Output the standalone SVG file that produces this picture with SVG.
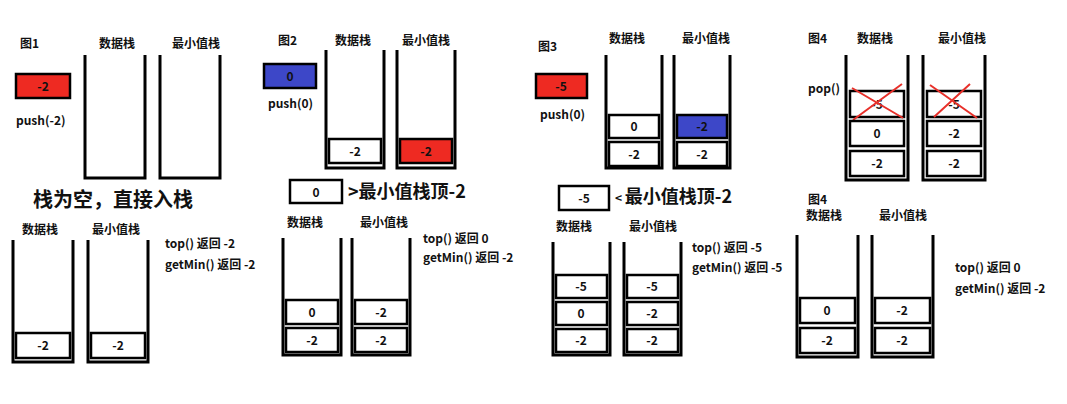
<svg xmlns="http://www.w3.org/2000/svg" width="1067" height="404" viewBox="0 0 1067 404">
<style>
text{font-family:"Noto Sans CJK SC","Liberation Sans",sans-serif;font-weight:bold;font-size:12px;fill:#111}
.c{text-anchor:middle}
.big{font-size:18px}
.stk{fill:none;stroke:#000;stroke-width:3}
.it{fill:#fff;stroke:#000;stroke-width:2.5}
.red{fill:#ee2a22;stroke:#000;stroke-width:2.5}
.blue{fill:#3d47c8;stroke:#000;stroke-width:2.5}
.x{stroke:#e8302a;stroke-width:2;fill:none}
</style>
<rect width="1067" height="404" fill="#fff"/>
<g id="panel1">
<text x="20" y="48">图1</text><text x="99" y="48">数据栈</text><text x="172" y="48">最小值栈</text>
<rect class="red" x="16" y="74" width="54" height="24"/><text class="c" x="43" y="91">-2</text>
<text x="16" y="125">push(-2)</text>
<path class="stk" d="M85 55V178H145V55M160 55V178H220V55"/>
<text x="33" y="207" style="font-size:20px">栈为空，直接入栈</text>
<text x="22" y="234">数据栈</text><text x="92" y="234">最小值栈</text>
<path class="stk" d="M13 240V362H73V240M88 240V362H148V240"/>
<rect class="it" x="16" y="333" width="54" height="25"/><text class="c" x="43" y="350">-2</text>
<rect class="it" x="91" y="333" width="54" height="25"/><text class="c" x="118" y="350">-2</text>
<text x="165" y="248">top() 返回 -2</text><text x="165" y="269">getMin() 返回 -2</text>
</g>
<g id="panel2">
<text x="278" y="45">图2</text><text x="335" y="45">数据栈</text><text x="402" y="45">最小值栈</text>
<rect class="blue" x="264" y="64" width="52" height="24"/><text class="c" x="290" y="81" fill="#fff">0</text>
<text x="268" y="108">push(0)</text>
<path class="stk" d="M326 50V168H384V50M397 50V168H455V50"/>
<rect class="it" x="329" y="139" width="52" height="24"/><text class="c" x="355" y="156">-2</text>
<rect class="red" x="400" y="139" width="52" height="24"/><text class="c" x="426" y="156">-2</text>
<rect class="it" x="290" y="180" width="52" height="23"/><text class="c" x="316" y="197">0</text>
<text x="348" y="198" class="big">&gt;最小值栈顶-2</text>
<text x="287" y="227">数据栈</text><text x="360" y="227">最小值栈</text>
<path class="stk" d="M283 238V355H341V238M352 238V355H410V238"/>
<rect class="it" x="286" y="300" width="52" height="24"/><text class="c" x="312" y="317">0</text>
<rect class="it" x="355" y="300" width="52" height="24"/><text class="c" x="381" y="317">-2</text>
<rect class="it" x="286" y="328" width="52" height="24"/><text class="c" x="312" y="345">-2</text>
<rect class="it" x="355" y="328" width="52" height="24"/><text class="c" x="381" y="345">-2</text>
<text x="423" y="243">top() 返回 0</text><text x="423" y="262">getMin() 返回 -2</text>
</g>
<g id="panel3">
<text x="538" y="51">图3</text><text x="609" y="43">数据栈</text><text x="682" y="43">最小值栈</text>
<rect class="red" x="536" y="74" width="51" height="24"/><text class="c" x="561" y="91" fill="#fff">-5</text>
<text x="540" y="119">push(0)</text>
<path class="stk" d="M606 55V168H662V55M674 55V168H730V55"/>
<rect class="it" x="609" y="115" width="50" height="23"/><text class="c" x="634" y="131">0</text>
<rect class="blue" x="677" y="115" width="50" height="23"/><text class="c" x="702" y="131" fill="#fff">-2</text>
<rect class="it" x="609" y="142" width="50" height="24"/><text class="c" x="634" y="159">-2</text>
<rect class="it" x="677" y="142" width="50" height="24"/><text class="c" x="702" y="159">-2</text>
<rect class="it" x="559" y="186" width="50" height="24"/><text class="c" x="584" y="203">-5</text>
<text x="615" y="203" class="big"><tspan style="font-size:12px">&lt; </tspan>最小值栈顶-2</text>
<text x="556" y="231">数据栈</text><text x="629" y="231">最小值栈</text>
<path class="stk" d="M553 242V355H610V242M624 242V355H681V242"/>
<rect class="it" x="556" y="275" width="51" height="23"/><text class="c" x="581" y="291">-5</text>
<rect class="it" x="627" y="275" width="51" height="23"/><text class="c" x="652" y="291">-5</text>
<rect class="it" x="556" y="302" width="51" height="23"/><text class="c" x="581" y="318">0</text>
<rect class="it" x="627" y="302" width="51" height="23"/><text class="c" x="652" y="318">-2</text>
<rect class="it" x="556" y="329" width="51" height="23"/><text class="c" x="581" y="345">-2</text>
<rect class="it" x="627" y="329" width="51" height="23"/><text class="c" x="652" y="345">-2</text>
<text x="692" y="252">top() 返回 -5</text><text x="692" y="272">getMin() 返回 -5</text>
</g>
<g id="panel4">
<text x="808" y="43">图4</text><text x="857" y="43">数据栈</text><text x="938" y="43">最小值栈</text>
<text x="808" y="93">pop()</text>
<path class="stk" d="M846 55V180H908V55M923 55V180H985V55"/>
<rect class="it" x="850" y="91" width="54" height="26"/><text class="c" x="877" y="109">-5</text>
<rect class="it" x="927" y="91" width="54" height="26"/><text class="c" x="954" y="109">-5</text>
<path class="x" d="M852 88L903 118M853 120L902 84M930 85L977 118M934 117L970 84"/>
<rect class="it" x="850" y="121" width="54" height="25"/><text class="c" x="877" y="138">0</text>
<rect class="it" x="927" y="121" width="54" height="25"/><text class="c" x="954" y="138">-2</text>
<rect class="it" x="850" y="151" width="54" height="25"/><text class="c" x="877" y="168">-2</text>
<rect class="it" x="927" y="151" width="54" height="25"/><text class="c" x="954" y="168">-2</text>
<text x="808" y="204">图4</text><text x="806" y="220">数据栈</text><text x="879" y="220">最小值栈</text>
<path class="stk" d="M797 235V357H858V235M872 235V357H933V235"/>
<rect class="it" x="800" y="298" width="55" height="25"/><text class="c" x="827" y="315">0</text>
<rect class="it" x="875" y="298" width="55" height="25"/><text class="c" x="902" y="315">-2</text>
<rect class="it" x="800" y="328" width="55" height="25"/><text class="c" x="827" y="345">-2</text>
<rect class="it" x="875" y="328" width="55" height="25"/><text class="c" x="902" y="345">-2</text>
<text x="955" y="272">top() 返回 0</text><text x="955" y="293">getMin() 返回 -2</text>
</g>
<g id="connectors"/>
</svg>
